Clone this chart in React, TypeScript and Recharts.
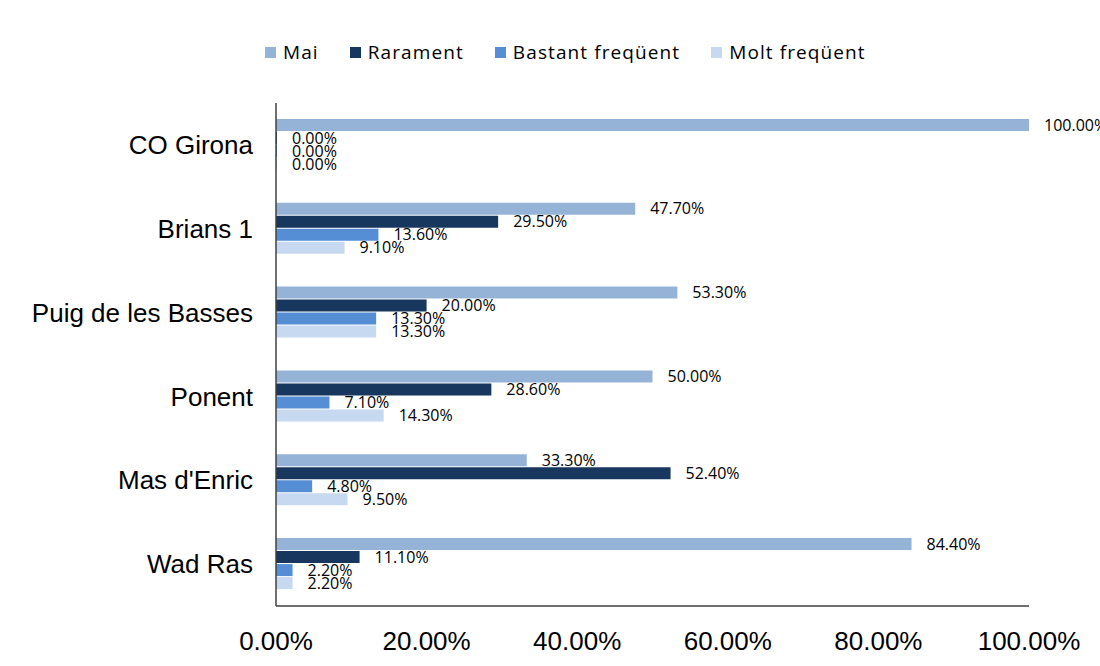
import React from 'react';
import { BarChart, Bar, XAxis, YAxis, LabelList } from 'recharts';

const categories = ['CO Girona', 'Brians 1', 'Puig de les Basses', 'Ponent', "Mas d'Enric", 'Wad Ras'];
const mai = [100, 47.7, 53.3, 50, 33.3, 84.4];
const rarament = [0, 29.5, 20, 28.6, 52.4, 11.1];
const bastant = [0, 13.6, 13.3, 7.1, 4.8, 2.2];
const molt = [0, 9.1, 13.3, 14.3, 9.5, 2.2];
const xTicks = [0, 20, 40, 60, 80, 100];

const SERIES = [
  { key: 'mai', name: 'Mai', color: '#95B3D7' },
  { key: 'rarament', name: 'Rarament', color: '#17375E' },
  { key: 'bastant', name: 'Bastant freqüent', color: '#558ED5' },
  { key: 'molt', name: 'Molt freqüent', color: '#C6D9F1' },
];

const data = categories.map((name, i) => ({
  name,
  mai: mai[i],
  rarament: rarament[i],
  bastant: bastant[i],
  molt: molt[i],
}));

const pct = (v: any) => Number(v).toFixed(2) + '%';

// legend drawn by hand outside the chart so it doesn't eat plot space
const renderLegend = () => (
  <div
    style={{
      position: 'absolute',
      left: 265,
      top: 38,
      display: 'flex',
      gap: 31,
      fontFamily: 'Open Sans',
      fontSize: 19,
      letterSpacing: 1.1,
      color: '#000',
      lineHeight: '28px',
    }}
  >
    {SERIES.map((s) => (
      <div key={s.key} style={{ display: 'flex', alignItems: 'center' }}>
        <div style={{ width: 11, height: 11, background: s.color, marginRight: 7 }} />
        <span>{s.name}</span>
      </div>
    ))}
  </div>
);

export default function App() {
  return (
    <div style={{ position: 'absolute', left: 0, top: 0, width: 1100, height: 666, background: '#fff' }}>
      <BarChart
        width={1100}
        height={666}
        data={data}
        layout="vertical"
        margin={{ top: 103, right: 71, bottom: 0, left: 0 }}
        barCategoryGap="19%"
        barGap={1}
      >
        <XAxis
          type="number"
          domain={[0, 100]}
          ticks={xTicks}
          tickFormatter={pct}
          tickLine={false}
          axisLine={{ stroke: '#404040', strokeWidth: 1.5 }}
          tick={{ fontFamily: 'Liberation Sans', fontSize: 26, fill: '#000' }}
          tickMargin={20}
          height={60}
        />
        <YAxis
          type="category"
          dataKey="name"
          width={276}
          tickLine={false}
          axisLine={{ stroke: '#404040', strokeWidth: 1.5 }}
          tick={{ fontFamily: 'Liberation Sans', fontSize: 26, fill: '#000' }}
          tickMargin={17}
        />
        {SERIES.map((s) => (
          <Bar
            key={s.key}
            dataKey={s.key}
            name={s.name}
            fill={s.color}
            minPointSize={1}
            isAnimationActive={false}
          >
            <LabelList
              dataKey={s.key}
              position="right"
              offset={15}
              formatter={pct}
              style={{ fontFamily: 'Open Sans', fontSize: 16, fill: '#000' }}
            />
          </Bar>
        ))}
      </BarChart>
      {renderLegend()}
    </div>
  );
}
